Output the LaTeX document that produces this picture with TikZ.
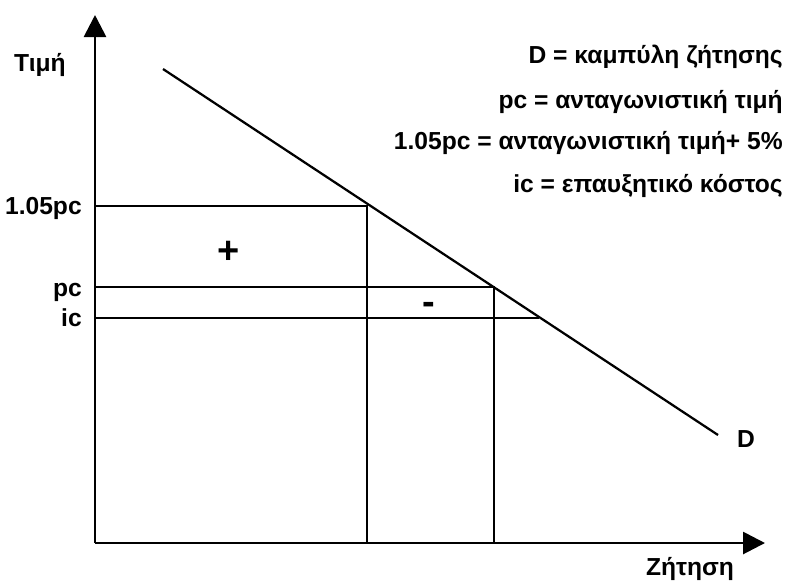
\documentclass[tikz,border=0pt]{standalone}
\usepackage{fontspec}
\setmainfont{Liberation Sans}
\usetikzlibrary{arrows.meta}
\tikzset{
  dm axis/.style={black,line width=2pt,-{Triangle[length=0.55cm,width=0.55cm]}},
  dm line/.style={black,line width=1.6pt},
  dm label/.style={inner sep=0pt,font=\fontsize{17.5}{21}\selectfont\bfseries},
  dm sign/.style={inner sep=0pt,font=\fontsize{27}{30}\selectfont\bfseries}
}

\begin{document}
\begin{tikzpicture}[x=0.025cm,y=-0.025cm]
  \useasboundingbox (0,0) rectangle (799,581);
  \coordinate (o) at (95,543);
  \coordinate (ytop) at (95,15);
  \coordinate (xend) at (765,543);
  \coordinate (ds) at (163,69);
  \coordinate (de) at (718,435);
  \coordinate (hi) at (367,206);
  \coordinate (mid) at (494,287);
  \coordinate (lo) at (539,318);
  \coordinate (yhi) at (95,206);
  \coordinate (ymid) at (95,287);
  \coordinate (ylo) at (95,318);
  \coordinate (xhi) at (367,543);
  \coordinate (xmid) at (494,543);

  \draw[dm line] (ds)--(de);
  \draw[dm line] (yhi)--(hi)--(xhi);
  \draw[dm line] (ymid)--(mid)--(xmid);
  \draw[dm line] (ylo)--(lo);
  \draw[dm axis] (o)--(ytop);
  \draw[dm axis] (o)--(xend);

  \node[dm label,anchor=base] (ttimi) at (40,71) {Τιμή};
  \node[dm label,anchor=base east] (thi) at (82,214) {1.05pc};
  \node[dm label,anchor=base east] (tmid) at (82,296) {pc};
  \node[dm label,anchor=base east] (tlo) at (82,326) {ic};
  \node[dm label,anchor=base] (tzit) at (690,575) {Ζήτηση};
  \node[dm label,anchor=base] (td) at (746,447) {D};
  \node[dm sign] (plus) at (229,252) {+};
  \node[dm sign] (minus) at (429,308) {-};

  \node[dm label,anchor=base east] (leg1) at (783,63) {D = καμπύλη ζήτησης};
  \node[dm label,anchor=base east] (leg2) at (783,108) {pc = ανταγωνιστική τιμή};
  \node[dm label,anchor=base east] (leg3) at (783,149) {1.05pc = ανταγωνιστική τιμή+ 5\%};
  \node[dm label,anchor=base east] (leg4) at (783,192) {ic = επαυξητικό κόστος};
\end{tikzpicture}
\end{document}
